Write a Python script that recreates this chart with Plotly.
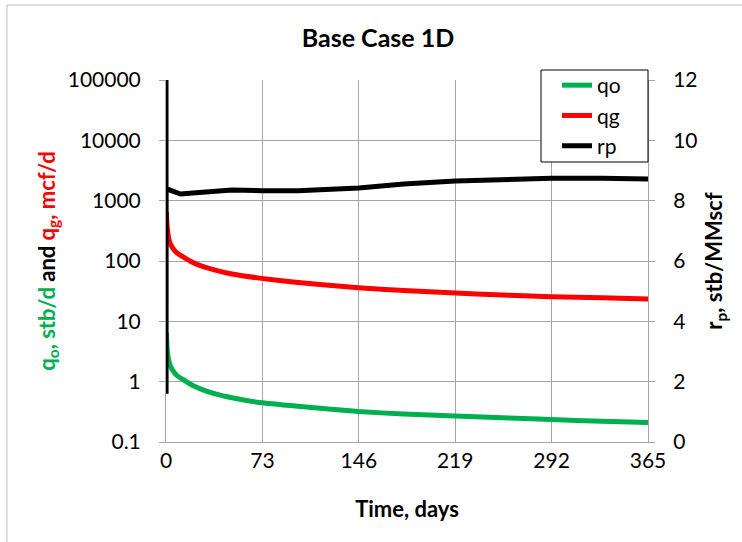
import plotly.graph_objects as go

# ---- data ----
t_q = [0.3, 0.7, 1.2, 2, 3, 5, 8, 13, 20, 26, 38, 50, 71, 100, 146, 180, 219, 260, 292, 330, 365]
qo = [6.5, 4.0, 3.0, 2.3, 1.9, 1.55, 1.28, 1.08, 0.87, 0.76, 0.62, 0.54, 0.45, 0.39, 0.32, 0.29, 0.27, 0.25, 0.235, 0.22, 0.21]
qg = [650, 420, 320, 240, 200, 165, 138, 117, 95, 84, 70, 61, 52, 44, 36, 32.5, 29.5, 27, 25.5, 24.5, 23.5]

t_rp = [0, 0.05, 0.1, 3, 11, 25, 50, 73, 100, 146, 180, 219, 260, 292, 330, 365]
rp = [14, 1.6, 8.4, 8.35, 8.22, 8.27, 8.35, 8.33, 8.33, 8.42, 8.55, 8.65, 8.72, 8.74, 8.74, 8.72]

x_ticks = [0, 73, 146, 219, 292, 365]
y_ticks = [0.1, 1, 10, 100, 1000, 10000, 100000]
y_ticktext = ["0.1", "1", "10", "100", "1000", "10000", "100000"]
y2_ticks = [0, 2, 4, 6, 8, 10, 12]

FONT = "Lato"
GRID = "#A6A6A6"
GREEN = "#00B050"
RED = "#FF0000"

fig = go.Figure()
fig.add_trace(go.Scatter(x=t_q, y=qo, name="qo", mode="lines",
                         line=dict(color=GREEN, width=5, shape="spline", smoothing=0.5)))
fig.add_trace(go.Scatter(x=t_q, y=qg, name="qg", mode="lines",
                         line=dict(color=RED, width=5, shape="spline", smoothing=0.5)))
fig.add_trace(go.Scatter(x=t_rp, y=rp, name="rp", mode="lines", yaxis="y2",
                         line=dict(color="black", width=5)))

W, H = 742, 542
L, R, T, B = 166, 94, 80, 100
pw, ph = W - L - R, H - T - B

def px_x(px):
    return (px - L) / pw

def px_y(py):
    return (H - B - py) / ph

fig.update_layout(
    width=W, height=H,
    margin=dict(l=L, r=R, t=T, b=B, pad=0),
    paper_bgcolor="white", plot_bgcolor="white",
    font=dict(family=FONT, size=21, color="black"),
    title=dict(text="<b>Base Case 1D</b>", x=378 / W, xanchor="center",
               y=1 - 38 / H, yanchor="middle", font=dict(size=25, family=FONT)),
    xaxis=dict(range=[0, 365], tickvals=x_ticks, showgrid=True, gridcolor=GRID,
               gridwidth=1, showline=True, linecolor=GRID, linewidth=1,
               ticks="", zeroline=False, ticklabelstandoff=0,
               title=dict(text="<b>Time, days</b>", font=dict(size=22), standoff=30)),
    yaxis=dict(type="log", range=[-1, 5], tickvals=y_ticks, ticktext=y_ticktext,
               showgrid=True, gridcolor=GRID, gridwidth=1, showline=True,
               linecolor=GRID, linewidth=1, ticks="outside", ticklen=6, tickcolor=GRID,
               zeroline=False, ticklabelstandoff=14,
               title=dict(text=("<b><span style='color:%s'>q<sub>o</sub>, stb/d</span>"
                                " and <span style='color:%s'>q<sub>g</sub>, mcf/d</span></b>")
                          % (GREEN, RED), font=dict(size=22), standoff=6)),
    yaxis2=dict(overlaying="y", side="right", range=[0, 12], tickvals=y2_ticks,
                showgrid=False, showline=True, linecolor=GRID, linewidth=1,
                ticks="outside", ticklen=6, tickcolor=GRID, zeroline=False,
                ticklabelstandoff=14,
                title=dict(text="<b>r<sub>p</sub>, stb/MMscf</b>", font=dict(size=22),
                           standoff=10)),
    legend=dict(x=px_x(557), y=px_y(65), xanchor="left", yanchor="top",
                borderwidth=0, bgcolor="rgba(0,0,0,0)",
                font=dict(size=21), tracegroupgap=0),
    showlegend=True,
    shapes=[
        dict(type="rect", xref="paper", yref="paper",
             x0=px_x(7), x1=px_x(760), y0=px_y(560), y1=px_y(5),
             line=dict(color="#BFBFBF", width=1), fillcolor="rgba(0,0,0,0)",
             layer="below"),
        dict(type="rect", xref="paper", yref="paper",
             x0=px_x(541), x1=px_x(648), y0=px_y(162), y1=px_y(70),
             line=dict(color="black", width=1), fillcolor="white",
             layer="above"),
    ],
)

fig.write_html("out.html")
